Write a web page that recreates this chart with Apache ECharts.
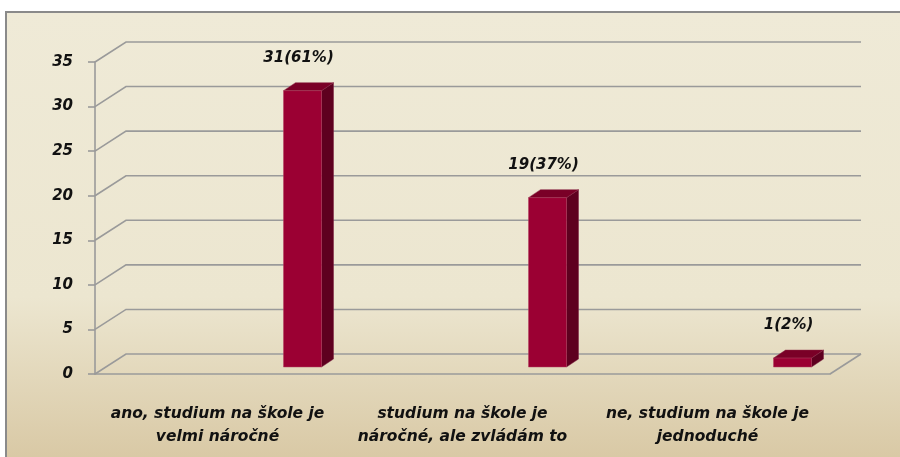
<!DOCTYPE html>
<html>
<head>
<meta charset="utf-8">
<script src="https://cdn.jsdelivr.net/npm/echarts@6/dist/echarts.min.js"></script>
<style>
  html, body { margin: 0; padding: 0; background: #fff; }
  #main { width: 900px; height: 457px; }
</style>
</head>
<body>
<div id="main"></div>
<script>
// odpovedi z dotazniku
const categories = [
  'ano, studium na škole je\nvelmi náročné',
  'studium na škole je\nnáročné, ale zvládám to',
  'ne, studium na škole je\njednoduché'
]
const counts = [31, 19, 1]
const percents = [61, 37, 2]
const yTicks = [0, 5, 10, 15, 20, 25, 30, 35]

const FONT = 'DejaVu Sans'
const wallDx = 31, wallDy = -20   // hloubka zadni steny
let chart = echarts.init(document.getElementById('main'))

function renderGrid(params, api) {
  let cs = params.coordSys
  let y = api.coord([0, api.value(0)])[1]
  let x0 = cs.x
  let style = { stroke: '#9a9a9a', lineWidth: 1.6, fill: null }
  let children = [{
    type: 'polyline',
    shape: { points: [[x0, y], [x0 + wallDx, y + wallDy], [x0 + wallDx + cs.width, y + wallDy]] },
    style: style
  }]
  if (api.value(0) === 0) { // prava hrana podlahy
    children.push({
      type: 'line',
      shape: { x1: x0 + cs.width, y1: y, x2: x0 + cs.width + wallDx, y2: y + wallDy },
      style: style
    })
  }
  return { type: 'group', children: children }
}

function renderBar(params, api) {
  let i = api.value(0)
  let top = api.coord([i, api.value(1)])
  let base = api.coord([i, 0])
  let left = top[0] + 66, w = 38
  let dx = 12, dy = -8
  let yt = top[1] - 7, yb = base[1] - 7
  let right = left + w
  return {
    type: 'group',
    children: [
      { type: 'polygon', shape: { points: [[right, yt], [right + dx, yt + dy], [right + dx, yb + dy], [right, yb]] },
        style: { fill: '#5e001f', stroke: '#7a2040', lineWidth: 0.5 } },
      { type: 'polygon', shape: { points: [[left, yt], [right, yt], [right + dx, yt + dy], [left + dx, yt + dy]] },
        style: { fill: '#7a0027', stroke: '#8a2a48', lineWidth: 0.5 } },
      { type: 'rect', shape: { x: left, y: yt, width: w, height: yb - yt },
        style: { fill: '#9b0033', stroke: '#b04060', lineWidth: 0.5 } },
      { type: 'text', x: left + w / 2 - 4, y: yt + dy - 25,
        style: { text: api.value(1) + '(' + percents[params.dataIndex] + '%)', fill: '#111',
          font: 'italic bold 15px "' + FONT + '"', align: 'center', verticalAlign: 'middle' } }
    ]
  }
}

let option = {
  animation: false,
  backgroundColor: '#fff',
  graphic: [{
    type: 'rect', z: -10,
    shape: { x: 6, y: 12, width: 900, height: 460 },
    style: {
      stroke: '#8a8a8a', lineWidth: 2,
      fill: new echarts.graphic.LinearGradient(0, 0, 0, 1, [
        { offset: 0, color: '#efead7' },
        { offset: 0.62, color: '#ece6d0' },
        { offset: 1, color: '#d7c6a1' }
      ])
    }
  }],
  grid: { left: 95, right: 70, top: 62, bottom: 83 },
  xAxis: {
    type: 'category',
    data: categories,
    axisLine: { lineStyle: { color: '#9a9a9a', width: 1.6 } },
    axisTick: { length: 5, lineStyle: { color: '#9a9a9a', width: 1.6 } },
    axisLabel: {
      margin: 28, color: '#111', fontFamily: FONT, fontSize: 15.5,
      fontStyle: 'italic', fontWeight: 'bold', lineHeight: 23, interval: 0
    }
  },
  yAxis: {
    type: 'value',
    min: 0, max: 35, interval: 5,
    splitLine: { show: false },
    axisLine: { show: true, lineStyle: { color: '#9a9a9a', width: 1.6 } },
    axisTick: { show: true, length: 7, lineStyle: { color: '#9a9a9a', width: 1.6 } },
    axisLabel: {
      margin: 22, color: '#111', fontFamily: FONT, fontSize: 15,
      fontStyle: 'italic', fontWeight: 'bold'
    }
  },
  series: [
    {
      type: 'custom', name: 'mrizka', silent: true, z: 1,
      renderItem: renderGrid,
      data: yTicks.map(v => [v])
    },
    {
      type: 'custom', name: 'odpovedi', z: 3,
      renderItem: renderBar,
      data: counts.map((v, i) => [i, v])
    }
  ]
}
chart.setOption(option)
</script>
</body>
</html>
